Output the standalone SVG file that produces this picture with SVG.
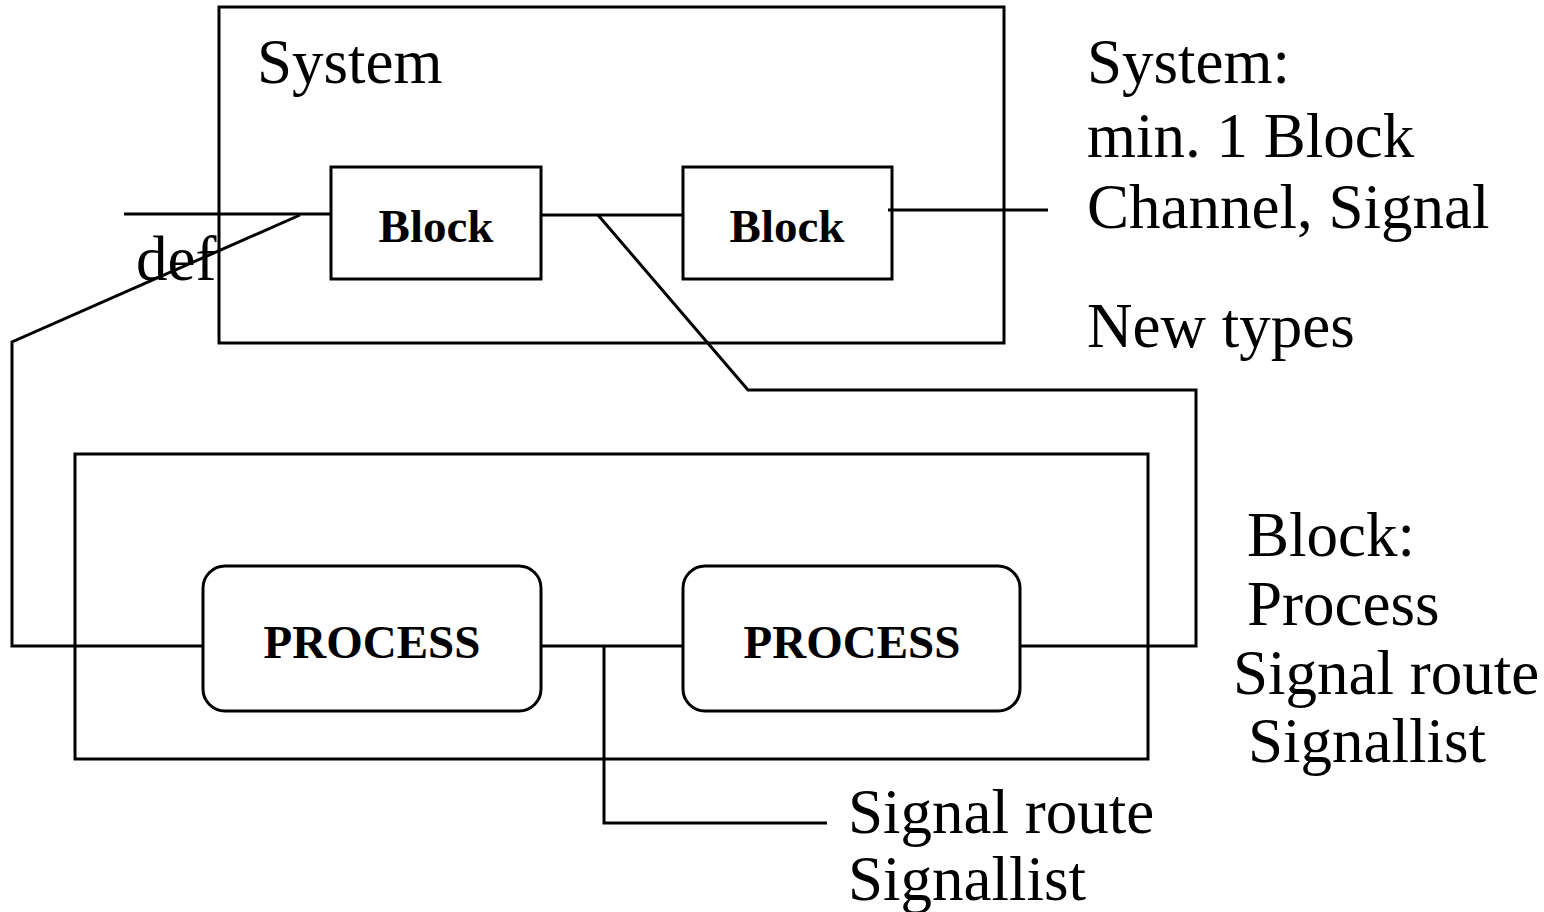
<svg xmlns="http://www.w3.org/2000/svg" width="1544" height="912" viewBox="0 0 1544 912">
  <style>
    .box { fill: none; stroke: #000; stroke-width: 3; }
    .wire { fill: none; stroke: #000; stroke-width: 3; }
    .txt { font-family: "Liberation Serif", "Times New Roman", serif; font-size: 63px; fill: #000; }
    .lbl { font-family: "Liberation Serif", "Times New Roman", serif; font-size: 47px; font-weight: bold; fill: #000; text-anchor: middle; }
  </style>
  <rect width="1544" height="912" fill="#fff"/>

  <!-- system level -->
  <g id="system">
    <rect class="box" x="219" y="7" width="785" height="336"/>
    <text class="txt" x="257" y="83">System</text>
  </g>
  <g id="block1">
    <rect class="box" x="331" y="167" width="210" height="112"/>
    <text class="lbl" x="436" y="242">Block</text>
  </g>
  <g id="block2">
    <rect class="box" x="683" y="167" width="209" height="112"/>
    <text class="lbl" x="787" y="242">Block</text>
  </g>

  <!-- block level -->
  <g id="block-def">
    <rect class="box" x="75" y="454" width="1073" height="305"/>
  </g>
  <g id="process1">
    <rect class="box" x="203" y="566" width="338" height="145" rx="22" ry="22"/>
    <text class="lbl" x="372" y="658">PROCESS</text>
  </g>
  <g id="process2">
    <rect class="box" x="683" y="566" width="337" height="145" rx="22" ry="22"/>
    <text class="lbl" x="852" y="658">PROCESS</text>
  </g>

  <!-- channels, signal routes and refinement links -->
  <g id="connectors">
    <line class="wire" x1="124" y1="214" x2="331" y2="214"/>
    <polyline class="wire" points="300,215 12,342 12,646 203,646"/>
    <line class="wire" x1="541" y1="215" x2="683" y2="215"/>
    <polyline class="wire" points="598,215 748,390 1196,390 1196,646 1020,646"/>
    <line class="wire" x1="888" y1="210" x2="1048" y2="210"/>
    <line class="wire" x1="541" y1="646" x2="683" y2="646"/>
    <polyline class="wire" points="604,646 604,823 827,823"/>
  </g>

  <g id="notes">
    <text class="txt" x="136" y="280">def</text>
    <text class="txt" x="1087" y="83">System:</text>
    <text class="txt" x="1087" y="157">min. 1 Block</text>
    <text class="txt" x="1087" y="228">Channel, Signal</text>
    <text class="txt" x="1087" y="347">New types</text>
    <text class="txt" x="1247" y="556">Block:</text>
    <text class="txt" x="1247" y="625">Process</text>
    <text class="txt" x="1233" y="694">Signal route</text>
    <text class="txt" x="1248" y="762">Signallist</text>
    <text class="txt" x="848" y="833">Signal route</text>
    <text class="txt" x="848" y="900">Signallist</text>
  </g>
</svg>
